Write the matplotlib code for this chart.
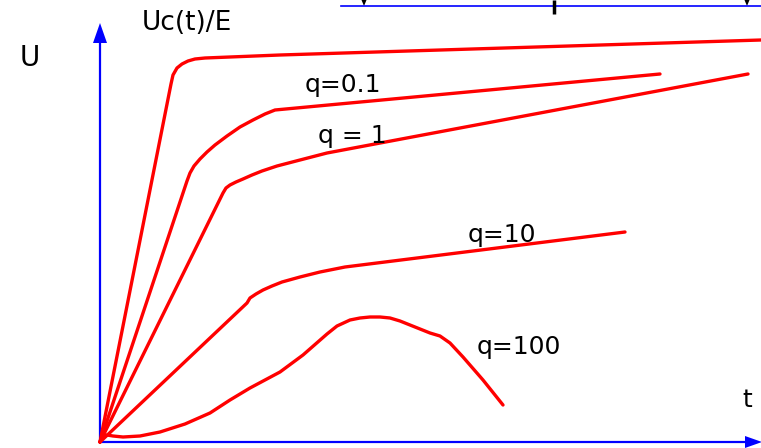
import matplotlib
matplotlib.use("Agg")
import matplotlib.pyplot as plt

plt.rcParams['font.family'] = ['DejaVu Sans']

# Curves (t, U) in drawing units, origin at axes corner
tA = [0, 71, 73, 77, 82, 88, 95, 105, 180, 661]
uA = [0, 358, 367, 374, 378, 381, 383, 384, 387, 402]

t01 = [0, 87, 90, 94, 100, 107, 115, 127, 140, 153, 165, 175, 560]
u01 = [0, 261, 269, 276, 283, 290, 297, 306, 315, 322, 328, 332, 368]

t1 = [0, 123, 126, 130, 136, 143, 152, 162, 177, 200, 227, 360, 648]
u1 = [0, 249, 254, 257, 260, 263, 267, 271, 276, 282, 289, 314, 368]

t10 = [0, 147, 150, 156, 163, 172, 182, 200, 220, 245, 525]
u10 = [0, 139, 144, 148, 152, 156, 160, 165, 170, 175, 210]

t100 = [0, 3, 7, 13, 23, 40, 60, 85, 110, 130, 150, 180, 203, 227, 237, 250,
        260, 270, 280, 290, 300, 310, 320, 330, 340, 350, 363, 383, 403]
u100 = [0, 6, 7, 6, 5, 6, 10, 18, 29, 42, 54, 70, 87, 108, 116, 122,
        124, 125, 125, 124, 121, 117, 113, 109, 106, 99, 85, 62, 37]

labels = ["U", "Uc(t)/E", "q=0.1", "q = 1", "q=10", "q=100", "t"]
label_t = [-70, 87, 243, 252, 402, 419, 647]
label_u = [376, 412, 350, 299, 200, 88, 35]
label_size = [20, 19, 18, 18, 18, 18, 18]

fig = plt.figure(figsize=(7.61, 4.48), dpi=100)
ax = fig.add_axes([0, 0, 1, 1])
ax.set_xlim(-100, 661)
ax.set_ylim(-6, 442)
ax.axis('off')

blue = '#0000ff'
# axes with arrows
ax.plot([0, 0], [0, 400], color=blue, lw=1.6)
ax.fill([-7, 7, 0], [399, 399, 419], color=blue, lw=0)
ax.plot([0, 646], [0, 0], color=blue, lw=1.6)
ax.fill([645, 645, 662], [-6, 6, 0], color=blue, lw=0)

# cropped line at top
ax.plot([241, 661], [436.5, 436.5], color=blue, lw=1.2)
for tt in [264, 647]:
    ax.fill([tt - 2.5, tt + 2.5, tt], [442, 442, 436], color='black', lw=0)
ax.plot([454, 454], [428, 442], color='black', lw=2.5, solid_capstyle='butt')

red = '#ff0000'
for tt, uu in [(tA, uA), (t01, u01), (t1, u1), (t10, u10), (t100, u100)]:
    ax.plot(tt, uu, color=red, lw=2.4, solid_joinstyle='round', solid_capstyle='round')

for s, x, y, fs in zip(labels, label_t, label_u, label_size):
    ax.text(x, y, s, ha='center', va='baseline', fontsize=fs, color='black')

fig.savefig("out.png", dpi=100)
